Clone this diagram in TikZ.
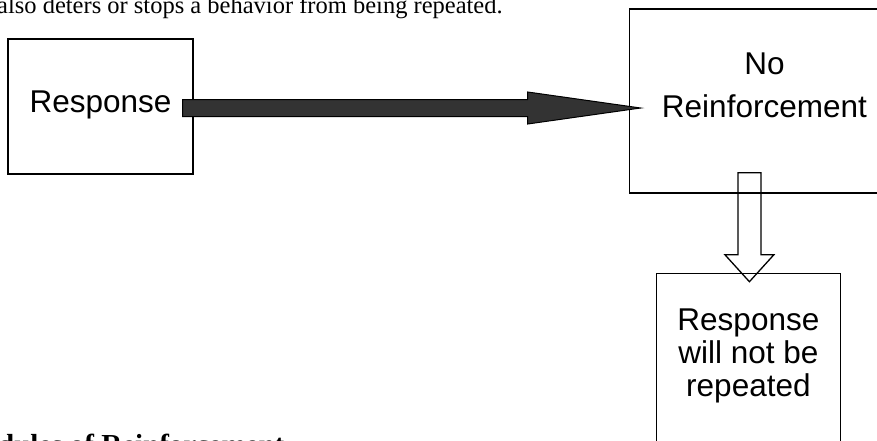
\documentclass[tikz,border=0pt]{standalone}
\usepackage{fontspec}
\setmainfont{Liberation Serif}
\newfontfamily\boxfont{Liberation Sans}
\usepackage{xcolor}
\usepackage{tikz}
\usetikzlibrary{positioning, calc}
\definecolor{arrowgray}{HTML}{333333}

\begin{document}
\begin{tikzpicture}[x=1pt, y=-1pt,
    frame/.style={draw, line width=1.4pt, inner sep=0pt},
    boxtext/.style={inner sep=0pt, align=center, font=\boxfont\fontsize{31.5}{33}\selectfont},
    bodytext/.style={inner sep=0pt, anchor=base west},
    fatarrow/.style={draw=black, line width=1pt, fill=arrowgray, line join=miter},
    hollowarrow/.style={draw=black, line width=1.3pt, line join=miter}
]
    \useasboundingbox (0,0) rectangle (877,440);
    \clip (0,0) rectangle (877,440);

    % Page text
    \node[bodytext, font=\fontsize{24.5}{29}\selectfont] (pagetop) at (-3,13.5) {also deters or stops a behavior from being repeated.};
    \node[bodytext, font=\bfseries\fontsize{29}{34}\selectfont] (heading) at (-2,454) {dules of Reinforcement};

    % Boxes
    \node[frame, minimum width=185pt, minimum height=135pt] (resp) at (100.5,106.5) {};
    \node[frame, minimum width=270pt, minimum height=184pt, right=435pt of resp, yshift=5.5pt] (noreinf) {};
    \node[frame, minimum width=184pt, minimum height=200pt, below=79pt of noreinf, xshift=-16pt] (result) {};

    \node[boxtext] (resptext) at ([yshift=2pt]resp.center) {Response};
    \node[boxtext, anchor=north] (noreinftext) at ([yshift=-44pt]noreinf.north) {No\\[10pt]Reinforcement};
    \node[boxtext, anchor=north] (resulttext) at ([yshift=-36pt]result.north) {Response\\will not be\\repeated};

    % Arrows
    \coordinate (fattail) at ([xshift=-11pt, yshift=-1.5pt]resp.east);
    \coordinate (fattip) at ([xshift=12pt, yshift=-7pt]noreinf.west);
    \draw[fatarrow] ($(fattail)+(0,-8.5)$) -- ($(fattip)+(-113,-8.5)$) -- ($(fattip)+(-113,-16)$)
        -- (fattip) -- ($(fattip)+(-113,16)$) -- ($(fattip)+(-113,8.5)$) -- ($(fattail)+(0,8.5)$) -- cycle;

    \coordinate (holtail) at ([xshift=-15pt, yshift=21pt]noreinf.south);
    \coordinate (holtip) at ([xshift=1pt, yshift=-9pt]result.north);
    \draw[hollowarrow] ($(holtail)+(-11.5,0)$) -- ($(holtip)+(-11.5,-27)$) -- ($(holtip)+(-24.5,-27)$)
        -- (holtip) -- ($(holtip)+(24.5,-27)$) -- ($(holtip)+(11.5,-27)$) -- ($(holtail)+(11.5,0)$) -- cycle;

\end{tikzpicture}
\end{document}
